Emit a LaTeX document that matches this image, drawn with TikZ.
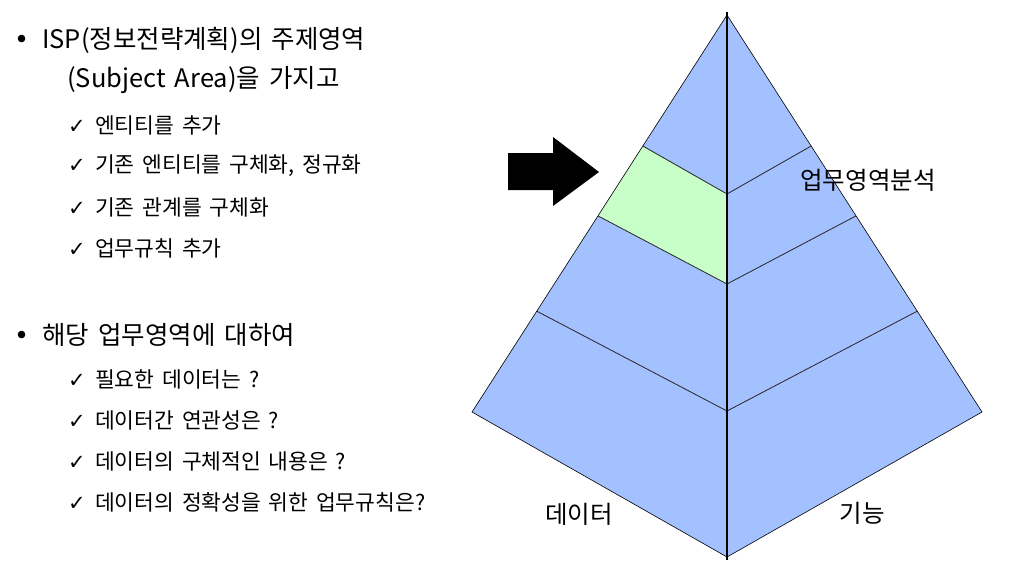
\documentclass[tikz,border=0pt]{standalone}
\usepackage{fontspec}
\setmainfont{Noto Sans CJK KR}[WordSpace=1.6]
\newfontfamily\symfont{DejaVu Sans}
\usepackage{tikz}
\usetikzlibrary{positioning, calc}
\usepackage{xcolor}
\definecolor{areablue}{RGB}{164,193,255}
\definecolor{areagreen}{RGB}{200,255,200}
\newcommand{\bul}{\makebox[28pt][l]{\symfont •}}
\newcommand{\chk}{\makebox[27pt][l]{\symfont\fontsize{21}{24}\selectfont ✓}}

\begin{document}
\begin{tikzpicture}[x=1pt,y=-1pt,node distance=41pt]
    \tikzstyle{topic}=[anchor=west,inner sep=0pt,font=\fontsize{25.5}{28}\selectfont]
    \tikzstyle{item}=[anchor=west,inner sep=0pt,font=\fontsize{21.5}{24}\selectfont]
    \tikzstyle{facelabel}=[inner sep=0pt,font=\fontsize{24.5}{26}\selectfont]
    \tikzstyle{band}=[draw=black!85,line width=0.8pt]

    \useasboundingbox (0,0) rectangle (1020,566);

    % left text
    \node[topic] (b1) at (14,40) {\bul ISP(정보전략계획)의 주제영역};
    \node[topic] (b1x) at (67,80) {(Subject Area)을 가지고};
    \node[item] (c1) at (68,125) {\chk 엔티티를 추가};
    \node[item, below=of c1.west, anchor=west] (c2) {\chk 기존 엔티티를 구체화, 정규화};
    \node[item, below=of c2.west, anchor=west] (c3) {\chk 기존 관계를 구체화};
    \node[item, below=of c3.west, anchor=west] (c4) {\chk 업무규칙 추가};

    \node[topic] (b2) at (14,335) {\bul 해당 업무영역에 대하여};
    \node[item] (d1) at (68,379) {\chk 필요한 데이터는 ?};
    \node[item, below=of d1.west, anchor=west] (d2) {\chk 데이터간 연관성은 ?};
    \node[item, below=of d2.west, anchor=west] (d3) {\chk 데이터의 구체적인 내용은 ?};
    \node[item, below=of d3.west, anchor=west] (d4) {\chk 데이터의 정확성을 위한 업무규칙은?};

    % pyramid
    \coordinate (apex) at (727,15);
    \coordinate (left) at (472,412);
    \coordinate (right) at (982,412);
    \coordinate (foot) at (727,557);
    \coordinate (C1) at (727,194);
    \coordinate (C2) at (727,284);
    \coordinate (C3) at (727,411);
    \foreach \n/\f in {1/0.33,2/0.506,3/0.746} {
        \coordinate (L\n) at ($(apex)!\f!(left)$);
        \coordinate (R\n) at ($(apex)!\f!(right)$);
    }

    \fill[areablue] (apex) -- (left) -- (foot) -- (right) -- cycle;
    \fill[areagreen] (L1) -- (L2) -- (C2) -- (C1) -- cycle;
    \foreach \n in {1,2,3}
        \draw[band] (L\n) -- (C\n) -- (R\n);
    \draw[line width=0.6pt] (apex) -- (left) -- (foot) -- (right) -- cycle;
    \draw[line width=1.3pt] ($(apex)+(0,-3)$) -- ($(foot)+(0,3)$);

    % arrow
    \fill (508,153) -- (553,153) -- (553,137) -- (599,172) -- (553,206)
        -- (553,190) -- (508,190) -- cycle;

    \node[facelabel] (area) at (868,180) {업무영역분석};
    \node[facelabel] (data) at (579,514) {데이터};
    \node[facelabel] (func) at (862,513) {기능};
\end{tikzpicture}
\end{document}
